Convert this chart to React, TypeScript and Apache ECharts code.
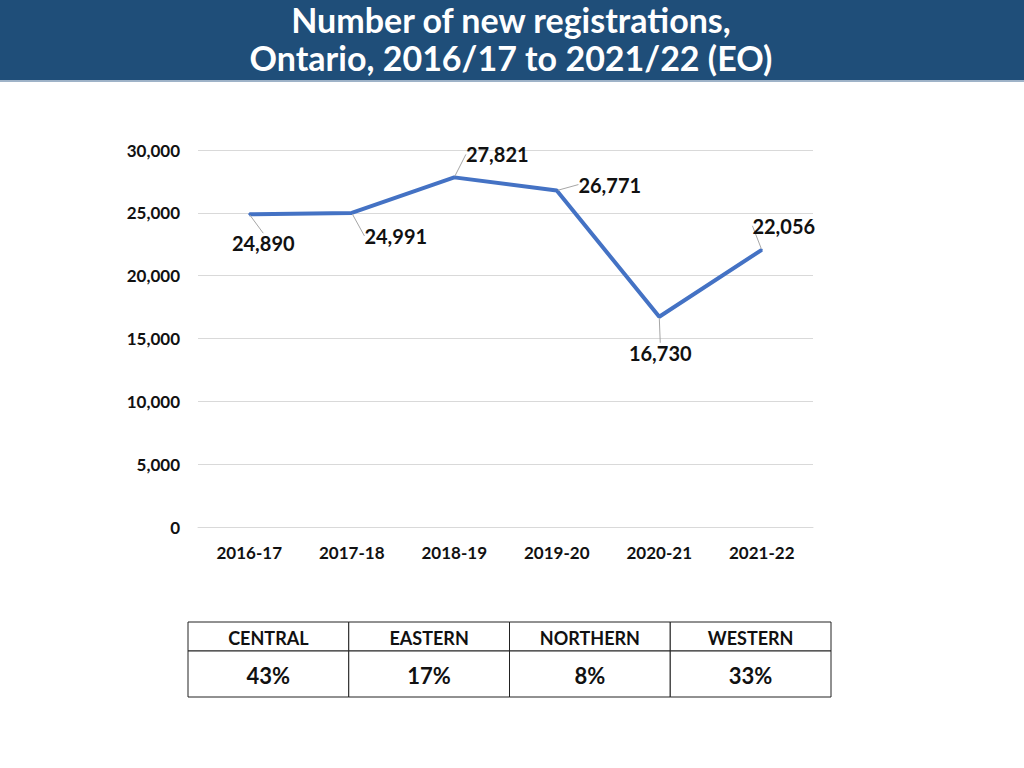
import React, { useEffect, useRef } from "react";
import * as echarts from "echarts";

const titleLines = ["Number of new registrations,", "Ontario, 2016/17 to 2021/22 (EO)"];
const categories = ["2016-17", "2017-18", "2018-19", "2019-20", "2020-21", "2021-22"];
const registrations = [24890, 24991, 27821, 26771, 16730, 22056];
const regions = ["CENTRAL", "EASTERN", "NORTHERN", "WESTERN"];
const regionShares = ["43%", "17%", "8%", "33%"];

const FONT = "Lato, 'Open Sans', 'Noto Sans', sans-serif";

// label offsets (dx, dy) from default top position
const labelOffsets = [
  [14, 45],
  [44, 39],
  [43, -7],
  [53, 10],
  [1, 52],
  [22, -8],
];

export default function App() {
  const ref = useRef<HTMLDivElement>(null);
  useEffect(() => {
    if (!ref.current) return;
    const chart = echarts.init(ref.current, null, { renderer: "svg" });

    const tableLeft = 188;
    const tableTop = 622;
    const colW = (831 - 188) / regions.length;
    const headH = 29;
    const valH = 46;
    const tableEls: any[] = [];
    regions.forEach((r, i) => {
      tableEls.push({
        type: "rect",
        shape: { x: tableLeft + i * colW, y: tableTop, width: colW, height: headH },
        style: { fill: "#fff", stroke: "#222", lineWidth: 1 },
      });
      tableEls.push({
        type: "rect",
        shape: { x: tableLeft + i * colW, y: tableTop + headH, width: colW, height: valH },
        style: { fill: "#fff", stroke: "#222", lineWidth: 1 },
      });
      tableEls.push({
        type: "text",
        x: tableLeft + i * colW + colW / 2,
        y: tableTop + headH / 2 + 1,
        style: {
          text: r,
          fill: "#111",
          font: `bold 18px ${FONT}`,
          align: "center",
          verticalAlign: "middle",
        },
      });
      tableEls.push({
        type: "text",
        x: tableLeft + i * colW + colW / 2,
        y: tableTop + headH + valH / 2 + 1,
        style: {
          text: regionShares[i],
          fill: "#111",
          font: `bold 22px ${FONT}`,
          align: "center",
          verticalAlign: "middle",
        },
      });
    });

    chart.setOption({
      animation: false,
      backgroundColor: "#ffffff",
      graphic: [
        {
          type: "rect",
          shape: { x: 0, y: 0, width: 1024, height: 80 },
          style: { fill: "#1F4E79" },
          z: 0,
        },
        {
          type: "rect",
          shape: { x: 0, y: 80, width: 1024, height: 2 },
          style: { fill: "#9fb3c8" },
          z: 0,
        },
        {
          type: "text",
          x: 511,
          y: 38,
          z: 1,
          style: {
            text: titleLines.join("\n"),
            fill: "#ffffff",
            font: `bold 34px ${FONT}`,
            lineHeight: 38,
            align: "center",
            verticalAlign: "middle",
          },
        },
        ...tableEls,
      ],
      grid: { left: 198, right: 211, top: 150, bottom: 241, containLabel: false },
      xAxis: {
        type: "category",
        data: categories,
        boundaryGap: true,
        axisLine: { show: true, lineStyle: { color: "#d9d9d9" } },
        axisTick: { show: false },
        axisLabel: {
          margin: 17,
          color: "#111",
          fontFamily: FONT,
          fontWeight: "bold",
          fontSize: 17,
        },
      },
      yAxis: {
        type: "value",
        min: 0,
        max: 30000,
        interval: 5000,
        axisLine: { show: false },
        axisTick: { show: false },
        splitLine: { lineStyle: { color: "#d9d9d9", width: 1 } },
        axisLabel: {
          margin: 18,
          color: "#111",
          fontFamily: FONT,
          fontWeight: "bold",
          fontSize: 17,
          formatter: (v: number) => v.toLocaleString("en-US"),
        },
      },
      series: [
        {
          type: "line",
          data: registrations,
          symbol: "circle",
          symbolSize: 2,
          showSymbol: true,
          itemStyle: { color: "#4472C4" },
          lineStyle: { color: "#4472C4", width: 4 },
          label: {
            show: true,
            position: "top",
            color: "#111",
            fontFamily: FONT,
            fontWeight: "bold",
            fontSize: 20,
            formatter: (p: any) => Number(p.value).toLocaleString("en-US"),
          },
          labelLine: { show: true, lineStyle: { color: "#a6a6a6", width: 1 } },
          labelLayout: (p: any) => ({
            dx: labelOffsets[p.dataIndex][0],
            dy: labelOffsets[p.dataIndex][1],
          }),
        },
      ],
    });
    return () => chart.dispose();
  }, []);
  return (
    <div
      ref={ref}
      style={{ position: "fixed", left: 0, top: 0, width: 1024, height: 768 }}
    />
  );
}
